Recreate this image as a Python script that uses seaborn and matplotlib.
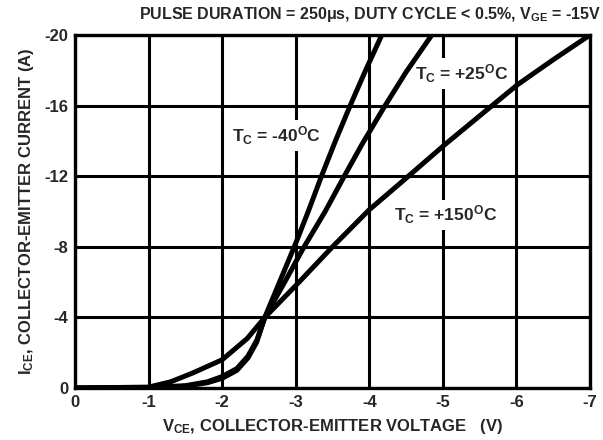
import matplotlib
matplotlib.use("Agg")
import matplotlib.pyplot as plt
import seaborn as sns
import pandas as pd

# Data (magnitudes; plotted as negative values)
v_m40 = [0, 1.0, 1.5, 1.8, 2.0, 2.2, 2.35, 2.47, 2.58, 2.8, 3.0, 3.17, 3.35, 3.54, 3.74, 3.95, 4.17]
i_m40 = [0, 0.02, 0.1, 0.3, 0.55, 1.0, 1.7, 2.6, 4.0, 6.2, 8.2, 10.0, 12.0, 14.0, 16.0, 18.0, 20.0]

v_25 = [0, 1.0, 1.5, 1.8, 2.0, 2.2, 2.35, 2.47, 2.58, 2.85, 3.1, 3.4, 3.66, 3.9, 4.2, 4.5, 4.85]
i_25 = [0, 0.03, 0.13, 0.35, 0.65, 1.1, 1.8, 2.7, 4.0, 6.0, 7.9, 10.0, 12.0, 13.8, 15.9, 17.9, 20.0]

v_150 = [0, 1.0, 1.3, 1.6, 2.0, 2.34, 2.58, 3.0, 3.5, 4.0, 4.42, 5.03, 5.64, 6.02, 6.5, 7.0]
i_150 = [0, 0.05, 0.35, 0.85, 1.6, 2.8, 4.0, 5.8, 8.0, 10.1, 11.6, 13.8, 15.9, 17.2, 18.6, 20.0]

x_ticks = [0, -1, -2, -3, -4, -5, -6, -7]
y_ticks = [0, -4, -8, -12, -16, -20]

frames = []
for name, v, i in [("-40", v_m40, i_m40), ("+25", v_25, i_25), ("+150", v_150, i_150)]:
    frames.append(pd.DataFrame({"V": [-a for a in v], "I": [-b for b in i], "T": name}))
df = pd.concat(frames, ignore_index=True)

sns.set_style("white")
plt.rcParams["font.family"] = ["Liberation Sans", "DejaVu Sans"]
plt.rcParams["font.weight"] = "bold"
plt.rcParams["axes.unicode_minus"] = False
plt.rcParams["mathtext.fontset"] = "custom"
plt.rcParams["mathtext.rm"] = "Liberation Sans:bold"
plt.rcParams["mathtext.bf"] = "Liberation Sans:bold"
plt.rcParams["mathtext.it"] = "Liberation Sans:bold"
plt.rcParams["mathtext.default"] = "rm"

fig = plt.figure(figsize=(6.03, 4.40), dpi=100)
ax = fig.add_axes([75/603, 1-388/440, (590-75)/603, (388-35)/440])

sns.lineplot(data=df, x="V", y="I", hue="T", units="T", estimator=None,
             palette=["black"]*3, linewidth=3.6, legend=False, ax=ax, zorder=5,
             solid_capstyle="butt", solid_joinstyle="round")

ax.set_xlim(0, -7)
ax.set_ylim(0, -20)
ax.set_xticks(x_ticks)
ax.set_xticklabels([str(t) for t in x_ticks])
ax.set_yticks(y_ticks)
ax.set_yticklabels([str(t) for t in y_ticks])
ax.grid(True, color="black", linewidth=2.2, zorder=1)
ax.set_axisbelow(True)
for s in ax.spines.values():
    s.set_linewidth(2.4)
    s.set_color("black")
    s.set_zorder(6)
ax.tick_params(length=0, labelsize=12, pad=5)
for lab in ax.get_xticklabels() + ax.get_yticklabels():
    lab.set_fontweight("bold")

ax.set_xlabel(r"V$_{CE}$, COLLECTOR-EMITTER VOLTAGE   (V)", fontsize=12, fontweight="bold", labelpad=5)
ax.set_ylabel(r"I$_{CE}$, COLLECTOR-EMITTER CURRENT (A)", fontsize=12, fontweight="bold", labelpad=6)

fig.text(370/603, 1-14/440, r"PULSE DURATION = 250$\mu$s, DUTY CYCLE < 0.5%, V$_{GE}$ = -15V",
         ha="center", va="center", fontsize=11.5, fontweight="bold")

box = dict(facecolor="white", edgecolor="none", pad=3)
ax.text(-2.74, -14.3, r"T$_C$ = -40$^O$C", ha="center", va="center", fontsize=12.5,
        fontweight="bold", bbox=box, zorder=3)
ax.text(-5.26, -17.8, r"T$_C$ = +25$^O$C", ha="center", va="center", fontsize=12.5,
        fontweight="bold", bbox=box, zorder=3)
ax.text(-5.03, -9.8, r"T$_C$ = +150$^O$C", ha="center", va="center", fontsize=12.5,
        fontweight="bold", bbox=box, zorder=3)

fig.savefig("out.png", dpi=100)
